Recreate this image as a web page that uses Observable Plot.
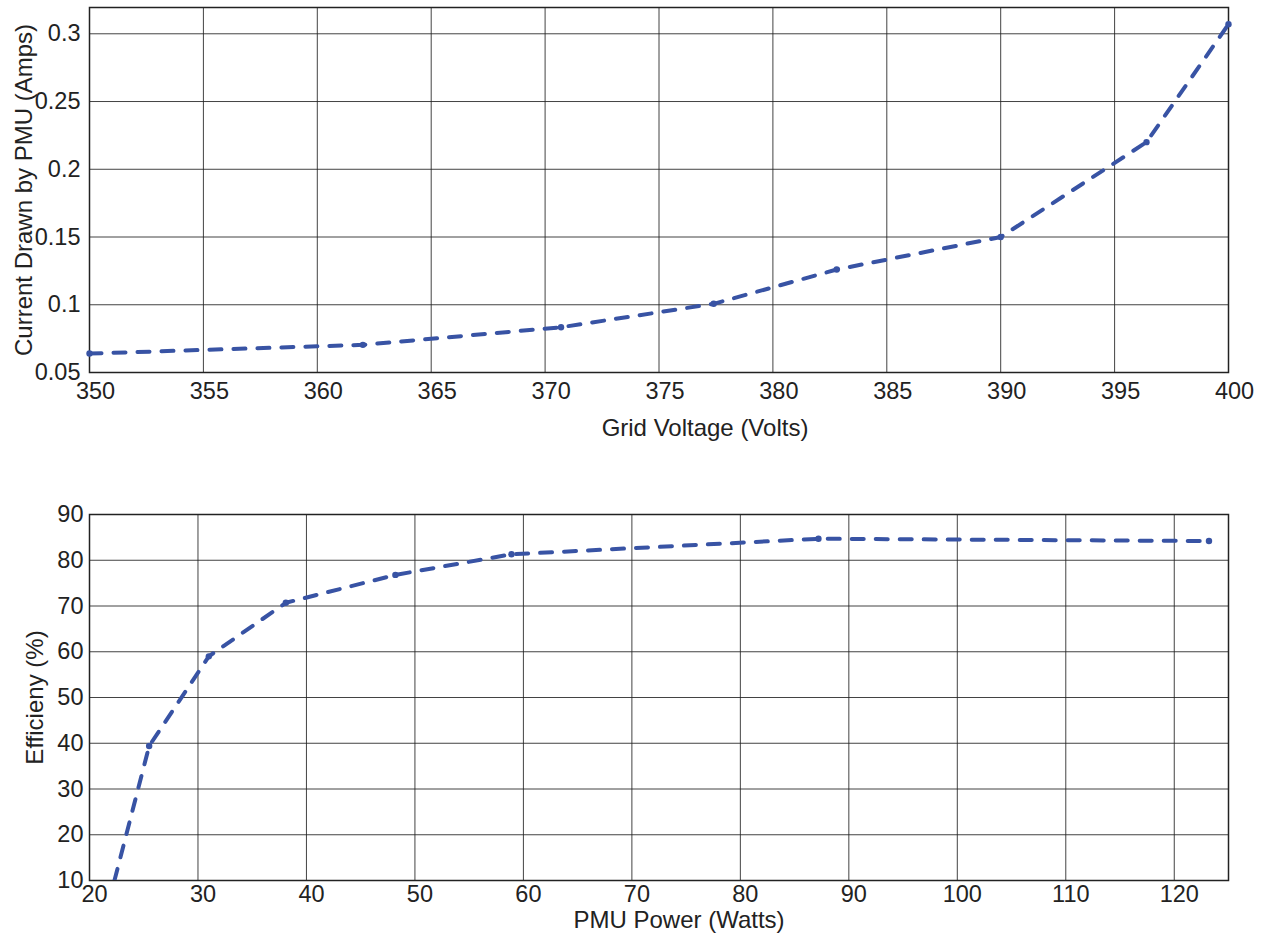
<!DOCTYPE html>
<html><head><meta charset="utf-8">
<script src="https://cdn.jsdelivr.net/npm/d3@7"></script>
<script src="https://cdn.jsdelivr.net/npm/@observablehq/plot@0.6"></script>
<style>
body{margin:0;background:#fff;}
#chart svg{display:block;}
</style>
</head><body><div id="chart"></div>
<script>
// Top panel data
const gridVoltage = [350, 362.0, 370.7, 377.4, 382.8, 390.0, 396.4, 400];
const currentDrawn = [0.064, 0.0704, 0.0834, 0.1007, 0.126, 0.150, 0.220, 0.307];
const voltageTicks = [350, 355, 360, 365, 370, 375, 380, 385, 390, 395, 400];
const currentTicks = [0.05, 0.1, 0.15, 0.2, 0.25, 0.3];
const topXLabel = "Grid Voltage (Volts)";
const topYLabel = "Current Drawn by PMU (Amps)";

// Bottom panel data
const pmuPower = [22.3, 25.5, 31.0, 38.1, 48.2, 58.9, 87.2, 123.2];
const efficiency = [10, 39.4, 59.0, 70.7, 76.8, 81.3, 84.7, 84.2];
const powerTicks = [20, 30, 40, 50, 60, 70, 80, 90, 100, 110, 120];
const efficiencyTicks = [10, 20, 30, 40, 50, 60, 70, 80, 90];
const bottomXLabel = "PMU Power (Watts)";
const bottomYLabel = "Efficieny (%)";

const lineColor = "#3853a4";
const ink = "#222";
const font = "'Liberation Sans', Arial, Helvetica, sans-serif";
const fmt = d => String(d);
const tickSize = 23.5;
const labelSize = 24;

const topRows = gridVoltage.map((v, i) => ({x: v, y: currentDrawn[i]}));
const bottomRows = pmuPower.map((v, i) => ({x: v, y: efficiency[i]}));

const style = {fontFamily: font, fontSize: "22px", color: ink, background: "white", overflow: "visible"};

const plotTop = Plot.plot({
  width: 1268, height: 450,
  marginLeft: 89, marginRight: 40, marginTop: 7, marginBottom: 78,
  x: {domain: [350, 400]},
  y: {domain: [0.05, 0.3194]},
  style,
  marks: [
    Plot.gridX(voltageTicks, {stroke: ink, strokeOpacity: 0.85, strokeWidth: 1}),
    Plot.gridY(currentTicks, {stroke: ink, strokeOpacity: 0.85, strokeWidth: 1}),
    Plot.frame({stroke: ink, strokeWidth: 1.5}),
    Plot.axisX(voltageTicks, {tickSize: 0, tickPadding: 10, label: null, tickFormat: fmt, fontSize: tickSize, dx: 6}),
    Plot.axisY(currentTicks, {tickSize: 0, tickPadding: 9, label: null, tickFormat: fmt, fontSize: tickSize}),
    Plot.line(topRows, {x: "x", y: "y", stroke: lineColor, strokeWidth: 4, strokeDasharray: "12,12", clip: true}),
    Plot.dot(topRows, {x: "x", y: "y", r: 3.2, fill: lineColor, stroke: null}),
    Plot.text([topXLabel], {frameAnchor: "bottom", lineAnchor: "middle", textAnchor: "middle", dy: 56, dx: 46, text: d => d, fontSize: labelSize, fill: ink}),
    Plot.text([topYLabel], {frameAnchor: "left", lineAnchor: "middle", textAnchor: "middle", dx: -65, rotate: -90, text: d => d, fontSize: labelSize, fill: ink})
  ]
});

const plotBottom = Plot.plot({
  width: 1268, height: 494,
  marginLeft: 89, marginRight: 40, marginTop: 64, marginBottom: 64,
  x: {domain: [20, 125]},
  y: {domain: [10, 90]},
  style,
  marks: [
    Plot.gridX(powerTicks, {stroke: ink, strokeOpacity: 0.85, strokeWidth: 1}),
    Plot.gridY(efficiencyTicks, {stroke: ink, strokeOpacity: 0.85, strokeWidth: 1}),
    Plot.frame({stroke: ink, strokeWidth: 1.5}),
    Plot.axisX(powerTicks, {tickSize: 0, tickPadding: 5, label: null, tickFormat: fmt, fontSize: tickSize, dx: 5}),
    Plot.axisY(efficiencyTicks, {tickSize: 0, tickPadding: 6, label: null, tickFormat: fmt, fontSize: tickSize}),
    Plot.line(bottomRows, {x: "x", y: "y", stroke: lineColor, strokeWidth: 4, strokeDasharray: "12,12", clip: true}),
    Plot.dot(bottomRows.slice(1), {x: "x", y: "y", r: 3.2, fill: lineColor, stroke: null}),
    Plot.text([bottomXLabel], {frameAnchor: "bottom", lineAnchor: "middle", textAnchor: "middle", dy: 40, dx: 20, text: d => d, fontSize: labelSize, fill: ink}),
    Plot.text([bottomYLabel], {frameAnchor: "left", lineAnchor: "middle", textAnchor: "middle", dx: -54, rotate: -90, text: d => d, fontSize: labelSize, fill: ink})
  ]
});

document.getElementById("chart").append(plotTop, plotBottom);
</script>
</body></html>
